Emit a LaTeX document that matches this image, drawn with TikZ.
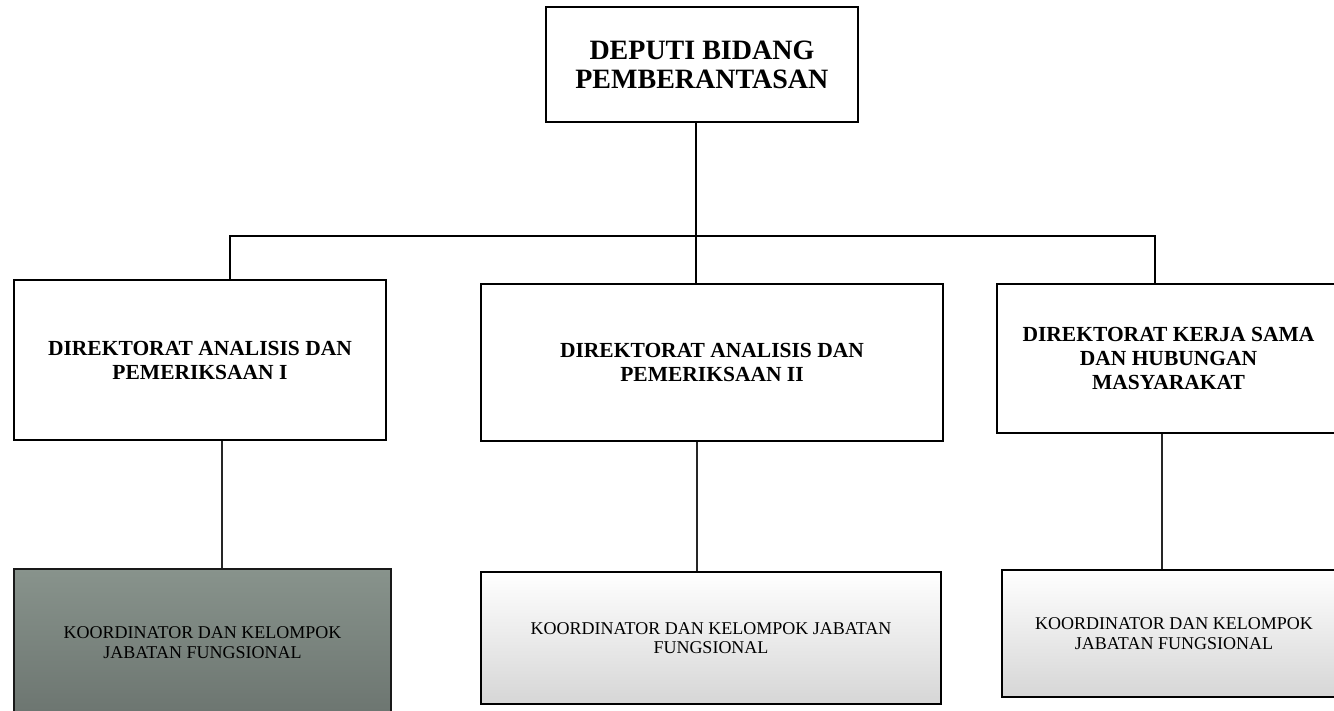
\documentclass[tikz,border=0pt]{standalone}
\usepackage{fontspec}
\setmainfont{Liberation Serif}
\definecolor{kgtop}{RGB}{136,147,140}
\definecolor{kgbot}{RGB}{108,117,112}
\definecolor{kltbot}{RGB}{214,214,214}
\tikzset{
  box/.style={draw=black, line width=2.2pt, rectangle, inner sep=0pt, align=center, fill=white},
  headtxt/.style={font=\fontsize{28}{29}\selectfont\bfseries},
  dirtxt/.style={font=\fontsize{21.5}{24}\selectfont\bfseries},
  kotxt/.style={font=\fontsize{18}{19.5}\selectfont},
  conn/.style={draw=black, line width=2.2pt},
  connthin/.style={draw=black!85, line width=1.6pt},
  darkbox/.style={box, top color=kgtop, bottom color=kgbot, draw=black!90},
  lightbox/.style={box, top color=white, bottom color=kltbot}
}
\begin{document}
\begin{tikzpicture}[x=1pt,y=-1pt]
\useasboundingbox (0,0) rectangle (1334,711);
\clip (0,0) rectangle (1334,711);
\fill[white] (0,0) rectangle (1334,711);

% top
\node[box, headtxt, minimum width=312pt, minimum height=115pt] (top) at (701.9,64.5)
  {DEPUTI BIDANG\\PEMBERANTASAN};

% directorates
\node[box, dirtxt, minimum width=372pt, minimum height=160pt] (d1) at (200,360)
  {DIREKTORAT ANALISIS DAN\\PEMERIKSAAN I};
\node[box, dirtxt, minimum width=462pt, minimum height=157pt] (d2) at (712,362.5)
  {DIREKTORAT ANALISIS DAN\\PEMERIKSAAN II};
\node[box, dirtxt, minimum width=343pt, minimum height=149pt] (d3) at (1168.5,358.5)
  {DIREKTORAT KERJA SAMA\\DAN HUBUNGAN\\MASYARAKAT};

% koordinator boxes
\node[darkbox, kotxt, minimum width=377pt, minimum height=147pt] (k1) at (202.5,642.5)
  {KOORDINATOR DAN KELOMPOK\\JABATAN FUNGSIONAL};
\node[lightbox, kotxt, minimum width=460pt, minimum height=132pt] (k2) at (711,638)
  {KOORDINATOR DAN KELOMPOK JABATAN\\FUNGSIONAL};
\node[lightbox, kotxt, minimum width=344pt, minimum height=127pt] (k3) at (1174,633.5)
  {KOORDINATOR DAN KELOMPOK\\JABATAN FUNGSIONAL};

% bus coordinates
\coordinate (busL) at (230,236);
\coordinate (busM) at (696,236);
\coordinate (busR) at (1155,236);
\coordinate (v1) at (222,0);
\coordinate (v2) at (697,0);
\coordinate (v3) at (1162,0);

\draw[conn] (busM |- top.south) -- (busM |- d2.north);
\draw[conn] (busL |- d1.north) -- (busL) -- (busR) -- (busR |- d3.north);

\draw[connthin] (v1 |- d1.south) -- (v1 |- k1.north);
\draw[connthin] (v2 |- d2.south) -- (v2 |- k2.north);
\draw[connthin] (v3 |- d3.south) -- (v3 |- k3.north);
\end{tikzpicture}
\end{document}
